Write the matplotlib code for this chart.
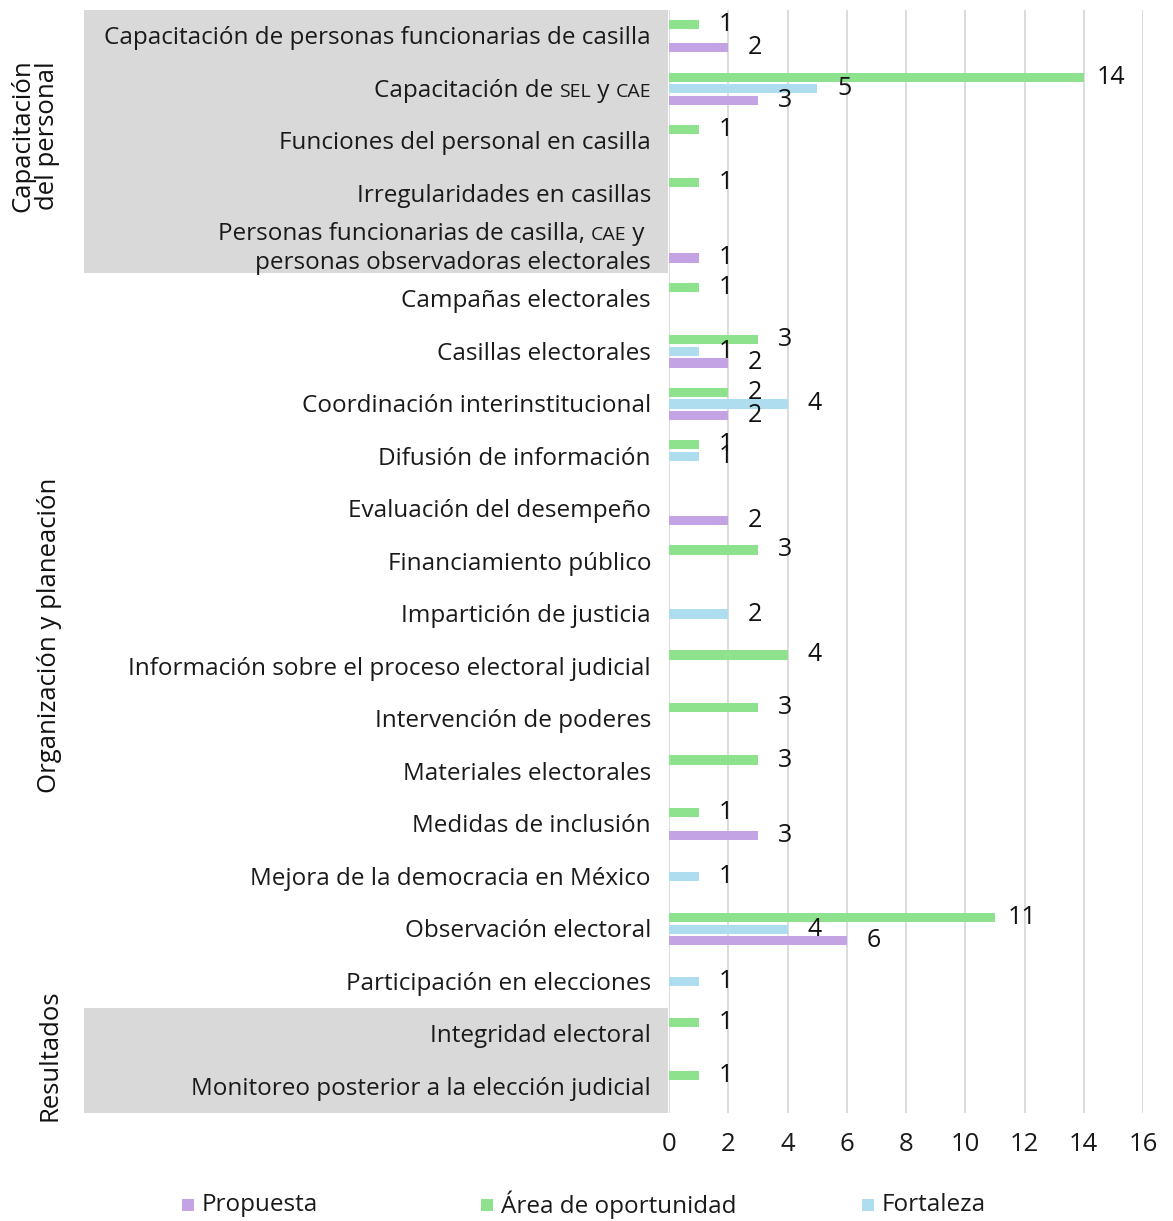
import matplotlib
matplotlib.use("Agg")
import matplotlib.pyplot as plt
import numpy as np
from matplotlib.transforms import blended_transform_factory
from matplotlib.patches import Rectangle
from matplotlib.offsetbox import TextArea, HPacker, VPacker, AnnotationBbox

plt.rcParams['font.family'] = ['Open Sans', 'DejaVu Sans']

# ---- data ----
categories = [
    "Capacitación de personas funcionarias de casilla",
    "Capacitación de SEL y CAE",
    "Funciones del personal en casilla",
    "Irregularidades en casillas",
    "Personas funcionarias de casilla, CAE y personas observadoras electorales",
    "Campañas electorales",
    "Casillas electorales",
    "Coordinación interinstitucional",
    "Difusión de información",
    "Evaluación del desempeño",
    "Financiamiento público",
    "Impartición de justicia",
    "Información sobre el proceso electoral judicial",
    "Intervención de poderes",
    "Materiales electorales",
    "Medidas de inclusión",
    "Mejora de la democracia en México",
    "Observación electoral",
    "Participación en elecciones",
    "Integridad electoral",
    "Monitoreo posterior a la elección judicial",
]
area_oportunidad = [1, 14, 1, 1, 0, 1, 3, 2, 1, 0, 3, 0, 4, 3, 3, 1, 0, 11, 0, 1, 1]
fortaleza        = [0, 5, 0, 0, 0, 0, 1, 4, 1, 0, 0, 2, 0, 0, 0, 0, 1, 4, 1, 0, 0]
propuesta        = [2, 3, 0, 0, 1, 0, 2, 2, 0, 2, 0, 0, 0, 0, 0, 3, 0, 6, 0, 0, 0]
groups = ["Capacitación\ndel personal", "Organización y planeación", "Resultados"]
group_rows = [(0, 4), (5, 18), (19, 20)]
series_names = ["Propuesta", "Área de oportunidad", "Fortaleza"]
xticks = list(range(0, 17, 2))

# ---- style ----
C_GREEN = "#8EE28E"
C_BLUE = "#ADDDEE"
C_PURPLE = "#C3A3E3"
C_GRAY = "#D9D9D9"
FS = 17.5
FS_SMALL = 14
TXT = "#1a1a1a"

W, H = 1173, 1221
fig = plt.figure(figsize=(W / 100, H / 100), dpi=100)
ax = fig.add_axes([669 / W, 1 - 1113 / H, (1143 - 669) / W, (1113 - 10) / H])

n = len(categories)
y = np.arange(n)
off = 0.22
bh = 0.175

for vals, dy, col in [(area_oportunidad, -off, C_GREEN), (fortaleza, 0, C_BLUE), (propuesta, off, C_PURPLE)]:
    vals = np.array(vals, dtype=float)
    mask = vals > 0
    ax.barh(y[mask] + dy, vals[mask], height=bh, color=col, zorder=3)
    for yy, v in zip(y[mask] + dy, vals[mask]):
        ax.annotate(f"{int(v)}", xy=(v, yy), xytext=(19.5, 0), textcoords="offset points",
                    ha="center", va="center", fontsize=18, color="#111111", zorder=4)

ax.set_xlim(0, 16)
ax.set_ylim(n - 0.5, -0.5)
ax.set_xticks(xticks)
ax.set_xticklabels([str(t) for t in xticks], fontsize=18.5, color=TXT)
ax.set_yticks([])
ax.tick_params(axis="x", length=0, pad=14)
for s in ax.spines.values():
    s.set_visible(False)
for t in xticks:
    ax.axvline(t, color=C_GRAY, lw=1.3, zorder=1)

# gray bands behind group labels
tr = blended_transform_factory(fig.transFigure, ax.transData)
for (a, b) in [group_rows[0], group_rows[2]]:
    ax.add_patch(Rectangle((84 / W, a - 0.5), (668 - 84) / W, b - a + 1, transform=tr,
                           facecolor=C_GRAY, edgecolor="none", clip_on=False, zorder=0))

# category labels (with small caps for acronyms)
lx = 651 / W
dyl = 0.04


def piece(txt, small=False):
    return TextArea(txt, textprops=dict(fontsize=FS_SMALL if small else FS, color=TXT))


for i, cat in enumerate(categories):
    if "SEL y CAE" in cat:
        box = HPacker(children=[piece("Capacitación de "), piece("SEL", True), piece(" y "), piece("CAE", True)],
                      align="baseline", pad=0, sep=0)
    elif cat.startswith("Personas funcionarias"):
        l1 = HPacker(children=[piece("Personas funcionarias de casilla, "), piece("CAE", True), piece(" y ")],
                     align="baseline", pad=0, sep=0)
        l2 = piece("personas observadoras electorales")
        box = VPacker(children=[l1, l2], align="right", pad=0, sep=3)
    else:
        ax.text(lx, i + dyl, cat, transform=tr, ha="right", va="center", fontsize=FS, color=TXT)
        continue
    ab = AnnotationBbox(box, (lx, i + dyl), xycoords=tr, box_alignment=(1, 0.5), frameon=False, pad=0,
                        annotation_clip=False)
    ax.add_artist(ab)

# group labels
gx = [35, 50, 50]
for g, (a, b), x in zip(groups, group_rows, gx):
    ax.text(x / W, (a + b) / 2 - 0.1, g, transform=tr, rotation=90, ha="center", va="center",
            fontsize=18.5, color="#111111", linespacing=0.95)

# legend
ly = 1 - 1205 / H
for name, col, x0 in zip(series_names, [C_PURPLE, C_GREEN, C_BLUE], [182, 481, 862]):
    fig.add_artist(Rectangle((x0 / W, ly - 6 / H), 12 / W, 12 / H, transform=fig.transFigure,
                             facecolor=col, edgecolor="none"))
    fig.text((x0 + 20) / W, ly, name, ha="left", va="center", fontsize=FS, color=TXT)

fig.savefig("out.png", dpi=100)
